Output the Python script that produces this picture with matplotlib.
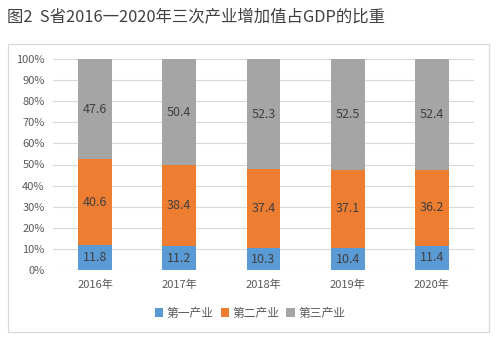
import matplotlib
matplotlib.use("Agg")
import matplotlib.pyplot as plt
from matplotlib.patches import Rectangle
from matplotlib.ticker import FuncFormatter

plt.rcParams['font.family'] = ['Noto Sans CJK SC', 'DejaVu Sans']

years = ['2016年', '2017年', '2018年', '2019年', '2020年']
primary = [11.8, 11.2, 10.3, 10.4, 11.4]
secondary = [40.6, 38.4, 37.4, 37.1, 36.2]
tertiary = [47.6, 50.4, 52.3, 52.5, 52.4]
series_names = ['第一产业', '第二产业', '第三产业']
colors = ['#5B9BD5', '#ED7D31', '#A5A5A5']
title = '图2  S省2016一2020年三次产业增加值占GDP的比重'

W, H = 498, 344
fig = plt.figure(figsize=(W/100, H/100), dpi=100)

# chart border
fig.patches.append(Rectangle((8/W, 1-332/H), (489-8)/W, (332-44)/H,
                             transform=fig.transFigure, fill=False,
                             edgecolor='#D9D9D9', linewidth=0.9))

fig.text(7/W, 1-18/H, title, fontsize=11.8, color='#404040', va='center', ha='left')

ax = fig.add_axes([53/W, 1-270/H, (474-53)/W, (270-59)/H])
x = range(len(years))
bottom = [0]*len(years)
data = [primary, secondary, tertiary]
bars = []
for vals, c, name in zip(data, colors, series_names):
    b = ax.bar(x, vals, bottom=bottom, width=0.4, color=c, label=name, zorder=3)
    for xi, v, b0 in zip(x, vals, bottom):
        ax.text(xi, b0 + v/2, f'{v:.1f}', ha='center', va='center',
                fontsize=9, color='#404040', zorder=4)
    bottom = [a+b_ for a, b_ in zip(bottom, vals)]
    bars.append(b)

ax.set_xlim(-0.5, len(years)-0.5)
ax.set_ylim(0, 100)
ax.set_yticks(range(0, 101, 10))
ax.yaxis.set_major_formatter(FuncFormatter(lambda v, p: f'{int(v)}%'))
ax.set_xticks(list(x))
ax.set_xticklabels(years)
ax.tick_params(axis='both', length=0, labelsize=8, colors='#595959')
ax.tick_params(axis='y', pad=6)
ax.tick_params(axis='x', pad=7)
ax.grid(axis='y', color='#D9D9D9', linewidth=0.8, zorder=0)
for s in ax.spines.values():
    s.set_visible(False)

fig.legend(handles=bars, labels=series_names, loc='center', ncol=3,
           bbox_to_anchor=(250/W, 1-313/H), frameon=False, fontsize=8.5,
           handlelength=0.7, handleheight=0.7, handletextpad=0.3,
           columnspacing=0.6, labelcolor='#595959')

fig.savefig('out.png', dpi=100)
